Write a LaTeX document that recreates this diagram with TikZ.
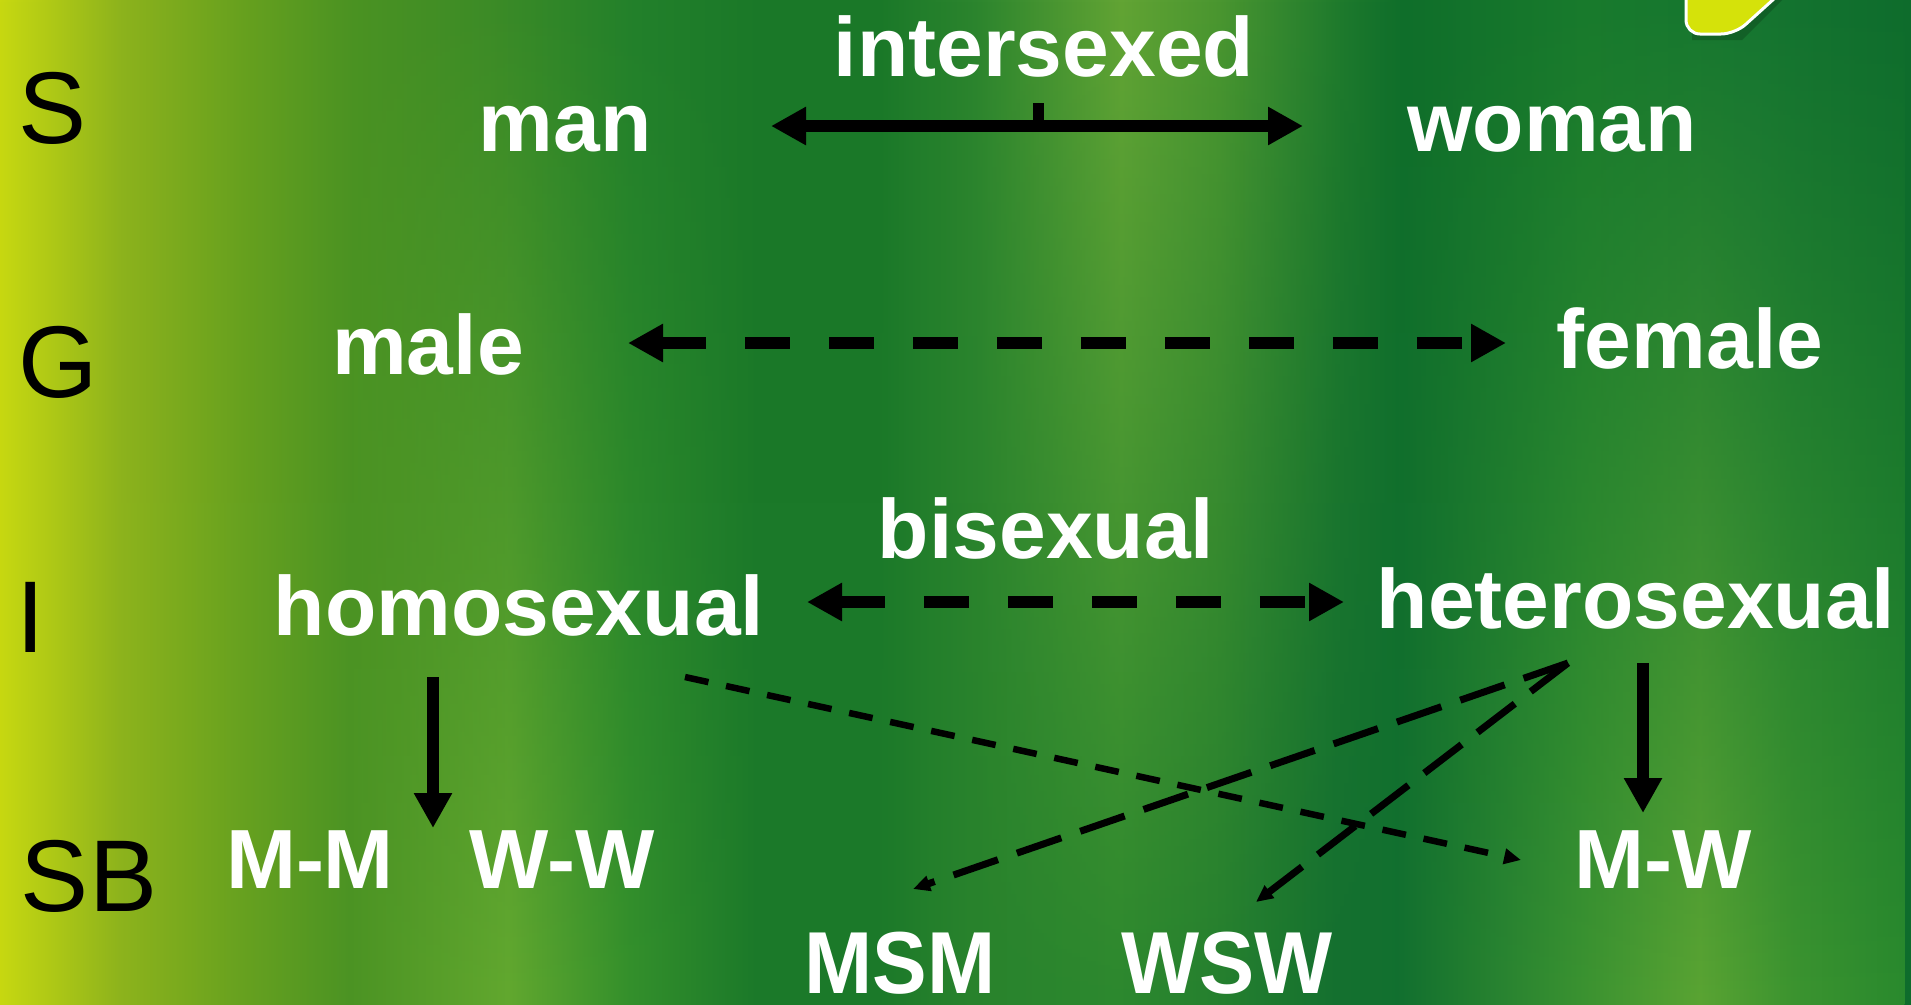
\documentclass[tikz,border=0pt]{standalone}
\usepackage{fontspec}
\setmainfont{Liberation Sans}
\usetikzlibrary{arrows.meta,fadings}
% top row colours
\definecolor{t0}{HTML}{C8D810}
\definecolor{t1}{HTML}{C2D512}
\definecolor{t2}{HTML}{8CB21C}
\definecolor{t3}{HTML}{66A01E}
\definecolor{t4}{HTML}{4A9222}
\definecolor{t5}{HTML}{3C8B26}
\definecolor{t6}{HTML}{22802A}
\definecolor{t7}{HTML}{1A7828}
\definecolor{t8}{HTML}{1A7828}
\definecolor{t9}{HTML}{2C852E}
\definecolor{t10}{HTML}{62A434}
\definecolor{t11}{HTML}{4A9630}
\definecolor{t12}{HTML}{1E7A2C}
\definecolor{t13}{HTML}{0F6E2A}
\definecolor{t14}{HTML}{187A2C}
\definecolor{t15}{HTML}{157530}
\definecolor{t16}{HTML}{0E6C2C}
% bottom row colours
\definecolor{b0}{HTML}{C8D810}
\definecolor{b1}{HTML}{C2D512}
\definecolor{b2}{HTML}{8EB41C}
\definecolor{b3}{HTML}{68A220}
\definecolor{b4}{HTML}{4C9424}
\definecolor{b5}{HTML}{62A82F}
\definecolor{b6}{HTML}{34902C}
\definecolor{b7}{HTML}{1C7A2A}
\definecolor{b8}{HTML}{1C7A2A}
\definecolor{b9}{HTML}{28822C}
\definecolor{b10}{HTML}{2C882E}
\definecolor{b11}{HTML}{25802E}
\definecolor{b12}{HTML}{147030}
\definecolor{b13}{HTML}{127030}
\definecolor{b14}{HTML}{3A9231}
\definecolor{b15}{HTML}{5AA433}
\definecolor{b16}{HTML}{3C9430}
\definecolor{b17}{HTML}{2A8A2E}
\definecolor{logoyellow}{HTML}{D5E20A}
\pgfdeclarehorizontalshading{topshade}{100bp}{%
color(0bp)=(t0);
color(25bp)=(t0);
color(25.31bp)=(t1);
color(28.19bp)=(t2);
color(31.38bp)=(t3);
color(34.24bp)=(t4);
color(37.77bp)=(t5);
color(41.59bp)=(t6);
color(44.88bp)=(t7);
color(48.02bp)=(t8);
color(50.51bp)=(t9);
color(54.33bp)=(t10);
color(56.89bp)=(t11);
color(60.09bp)=(t12);
color(61.68bp)=(t13);
color(66.45bp)=(t14);
color(70.79bp)=(t15);
color(75bp)=(t16);
color(100bp)=(t16)}
\pgfdeclarehorizontalshading{botshade}{100bp}{%
color(0bp)=(b0);
color(25bp)=(b0);
color(25.31bp)=(b1);
color(28.19bp)=(b2);
color(31.38bp)=(b3);
color(34.24bp)=(b4);
color(38.40bp)=(b5);
color(41.59bp)=(b6);
color(44.88bp)=(b7);
color(48.02bp)=(b8);
color(50.51bp)=(b9);
color(54.33bp)=(b10);
color(56.89bp)=(b11);
color(60.09bp)=(b12);
color(61.68bp)=(b13);
color(66.45bp)=(b14);
color(69.64bp)=(b15);
color(72.10bp)=(b16);
color(75bp)=(b17);
color(100bp)=(b17)}
\tikzset{
  lbl/.style={font={\fontsize{102}{102}\selectfont}, text=black, inner sep=0pt, anchor=base},
  wt/.style={font={\fontsize{84}{84}\selectfont\bfseries}, text=white, inner sep=0pt, anchor=base},
  nw/.style={font={\fontsize{88}{88}\selectfont\bfseries}, text=white, inner sep=0pt, anchor=base},
  bigtip/.tip={Triangle[length=35pt,width=36pt]},
  smalltip/.tip={Triangle[length=17pt,width=15pt]},
  solidarr/.style={line width=12pt, black},
  bigdash/.style={line width=12pt, black, dash pattern=on 45pt off 39pt},
  thindash/.style={line width=6.5pt, black, dash pattern=on 24pt off 18pt},
  longdash/.style={line width=7pt, black, dash pattern=on 47pt off 20pt},
}
\begin{document}
\begin{tikzpicture}[x=1pt,y=-1pt]
\useasboundingbox (0,0) rectangle (1911,1004);
\shade[shading=topshade] (0,0) rectangle (1911,1004);
\shade[shading=botshade, path fading=north] (0,0) rectangle (1911,1004);
% logo corner
\fill[black, opacity=0.18] (1692,-30) -- (1692,40) -- (1742,40) -- (1812,-30) -- cycle;
\filldraw[fill=logoyellow, draw=white, line width=3pt, rounded corners=14pt]
  (1686,-30) -- (1686,34) -- (1735,34) -- (1806,-30) -- cycle;
% row letters
\node[lbl] (S) at (53,143) {S};
\node[lbl] (G) at (58,397) {G};
\node[lbl] (I) at (31,652) {I};
\node[lbl] (SB) at (89,911) {SB};
% words
\node[wt] (intersexed) at (1044,76) {intersexed};
\node[wt] (man) at (565,151) {man};
\node[wt] (woman) at (1552,151) {woman};
\node[wt] (male) at (428,374) {male};
\node[wt] (female) at (1690,368) {female};
\node[wt] (bisexual) at (1046,558) {bisexual};
\node[wt] (homo) at (519,635) {homosexual};
\node[wt] (hetero) at (1636,628) {heterosexual};
\node[wt] (MM) at (310,888) {M-M};
\node[wt] (WW) at (562,888) {W-W};
\node[wt] (MW) at (1663,888) {M-W};
\node[nw] (MSM) at (900,993) {\scalebox{0.93}[1]{MSM}};
\node[nw] (WSW) at (1227,993) {\scalebox{0.94}[1]{WSW}};
% connector end points
\coordinate (sL) at (771,126);
\coordinate (sR) at (1303,126);
\coordinate (gL) at (628,343);
\coordinate (gR) at (1506,343);
\coordinate (iL) at (807,602);
\coordinate (iR) at (1344,602);
\coordinate (hoTop) at (433,677);
\coordinate (hoBot) at (433,828);
\coordinate (heTop) at (1643,663);
\coordinate (heBot) at (1643,813);
\coordinate (hoX) at (685,677);
\coordinate (mwEnd) at (1521,860);
\coordinate (heX) at (1568,663);
\coordinate (msmEnd) at (913,889);
\coordinate (wswEnd) at (1256,902);
% connectors
\draw[solidarr, bigtip-bigtip] (sL) -- (sR);
\fill[black] (1033,103) rectangle (1044,121);
\draw[bigdash, bigtip-bigtip] (gL) -- (gR);
\draw[bigdash, bigtip-bigtip] (iL) -- (iR);
\draw[solidarr, -bigtip] (hoTop) -- (hoBot);
\draw[solidarr, -bigtip] (heTop) -- (heBot);
\draw[thindash, -smalltip] (hoX) -- (mwEnd);
\draw[longdash, -smalltip] (heX) -- (msmEnd);
\draw[longdash, -smalltip] (heX) -- (wswEnd);
\end{tikzpicture}
\end{document}
